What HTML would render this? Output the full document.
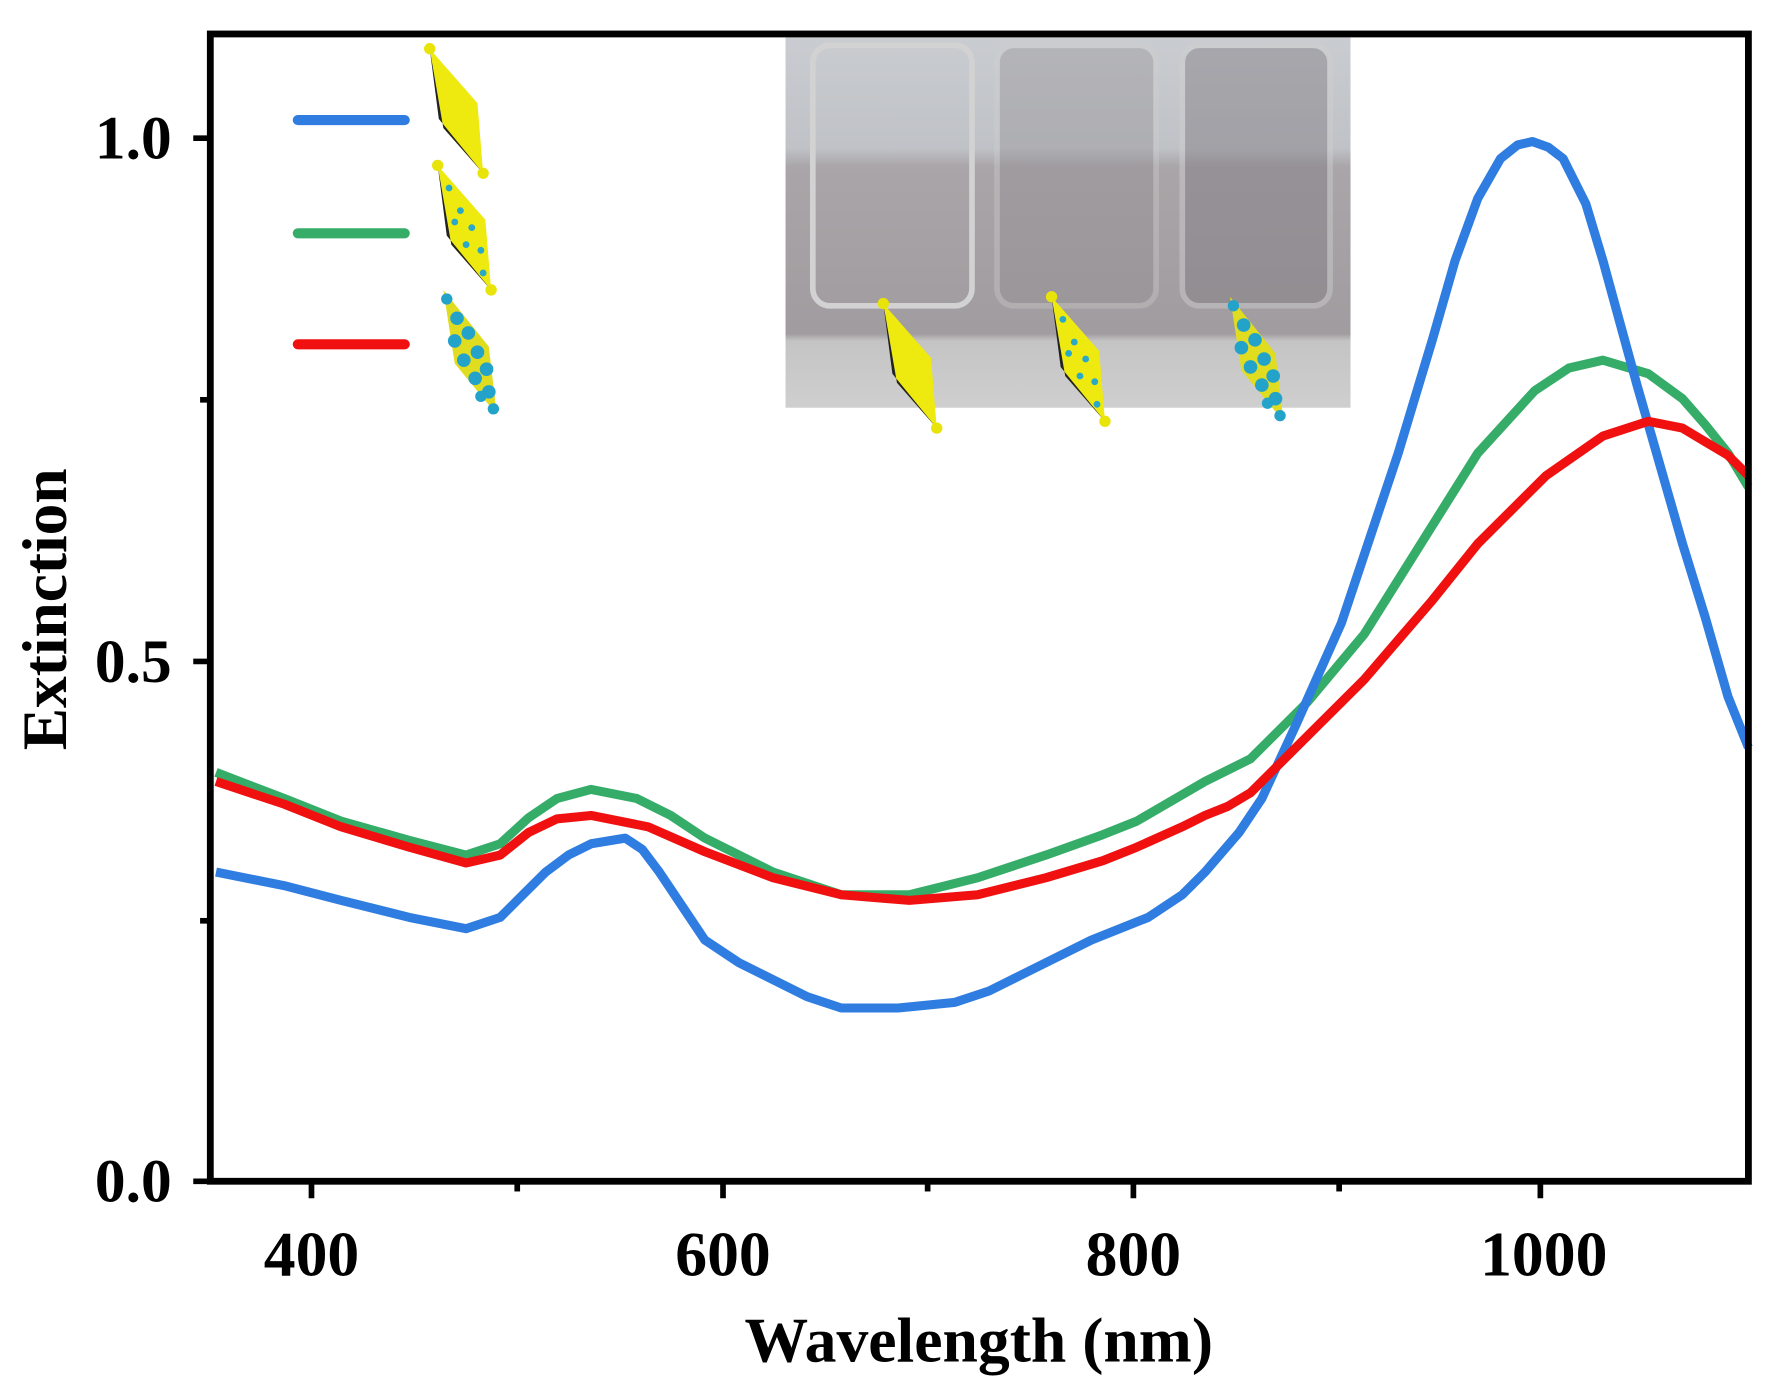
<!DOCTYPE html>
<html><head><meta charset="utf-8"><style>
html,body{margin:0;padding:0;background:#fff;}
svg{display:block;}
text{font-family:"Liberation Serif",serif;font-weight:bold;fill:#000;}
</style></head><body>
<svg width="1770" height="1384" viewBox="0 0 1557 1222" preserveAspectRatio="none" xmlns="http://www.w3.org/2000/svg">
<defs>
<linearGradient id="ph" x1="0" y1="0" x2="0" y2="1">
<stop offset="0" stop-color="#c9ccd0"/><stop offset="0.3" stop-color="#bfc2c6"/><stop offset="0.35" stop-color="#a9a5a8"/><stop offset="0.8" stop-color="#a09c9f"/><stop offset="0.82" stop-color="#c4c4c4"/><stop offset="1" stop-color="#cfcfcf"/>
</linearGradient>
<g id="bp">
<polygon points="0,0 42,48 47,110 12,70" fill="#eeea10"/>
<polygon points="0,0 12,70 47,110 8,62" fill="#222"/>
<circle cx="0" cy="0" r="5" fill="#e8e40a"/><circle cx="47" cy="110" r="5" fill="#e8e40a"/>
</g>
<g id="bp2">
<use href="#bp"/>
<g fill="#2aa8c8"><circle cx="10" cy="20" r="3"/><circle cx="20" cy="40" r="3"/><circle cx="30" cy="55" r="3"/><circle cx="38" cy="75" r="3"/><circle cx="25" cy="70" r="3"/><circle cx="15" cy="50" r="3"/><circle cx="40" cy="95" r="3"/></g>
</g>
<g id="bp3">
<polygon points="0,0 40,50 47,110 10,65" fill="#e0dc20"/>
<g fill="#23a3c9"><circle cx="3" cy="8" r="5"/><circle cx="12" cy="25" r="6"/><circle cx="22" cy="38" r="6"/><circle cx="10" cy="45" r="6"/><circle cx="30" cy="55" r="6"/><circle cx="18" cy="62" r="6"/><circle cx="38" cy="70" r="6"/><circle cx="28" cy="78" r="6"/><circle cx="40" cy="90" r="6"/><circle cx="44" cy="105" r="5"/><circle cx="33" cy="94" r="5"/></g>
</g>
</defs>
<rect x="691" y="33" width="497" height="327" fill="url(#ph)"/>
<rect x="715" y="40" width="140" height="230" rx="15" fill="none" stroke="#d2d2d2" stroke-width="5"/>
<rect x="877" y="40" width="140" height="230" rx="15" fill="#8f8b90" opacity="0.35" stroke="#d0d0d0" stroke-width="5"/>
<rect x="1040" y="40" width="130" height="230" rx="15" fill="#7f7b82" opacity="0.45" stroke="#d0d0d0" stroke-width="5"/>
<use href="#bp" x="777" y="268"/>
<use href="#bp2" x="925" y="262"/>
<use href="#bp3" x="1082" y="262"/>
<line x1="262" y1="106" x2="356" y2="106" stroke="#2f7de0" stroke-width="9" stroke-linecap="round"/>
<line x1="262" y1="206" x2="356" y2="206" stroke="#35ad68" stroke-width="9" stroke-linecap="round"/>
<line x1="262" y1="304" x2="356" y2="304" stroke="#f01010" stroke-width="9" stroke-linecap="round"/>
<use href="#bp" x="378" y="43"/>
<use href="#bp2" x="385" y="146"/>
<use href="#bp3" x="390" y="256"/>
<g fill="none" stroke-width="8" stroke-linejoin="round">
<polyline stroke="#35ad68" points="190,682 250,705 300,725 360,742 410,755 440,745 465,722 490,705 520,697 560,705 590,720 620,740 680,770 740,790 800,790 860,775 920,755 970,737 1000,725 1060,690 1100,670 1150,620 1200,560 1250,480 1300,400 1350,345 1380,325 1410,318 1450,330 1480,352 1500,375 1520,400 1538,430"/>
<polyline stroke="#2f7de0" points="190,770 250,782 300,795 360,810 410,820 440,810 460,790 480,770 500,755 520,745 550,740 565,750 580,770 600,800 620,830 650,850 680,865 710,880 740,890 790,890 840,885 870,875 900,860 960,830 1010,810 1040,790 1060,770 1090,735 1110,705 1140,640 1160,595 1180,550 1200,490 1230,400 1260,300 1280,230 1300,175 1320,140 1335,128 1348,125 1362,130 1375,140 1395,180 1410,230 1425,285 1440,340 1460,410 1480,480 1500,545 1520,615 1538,660"/>
<polyline stroke="#f01010" points="190,690 250,710 300,730 360,748 410,762 440,755 465,735 490,723 520,720 570,730 620,752 680,775 740,790 800,795 860,790 920,775 970,760 1000,748 1040,730 1060,720 1080,712 1100,700 1150,650 1200,600 1260,530 1300,480 1360,420 1410,385 1450,372 1480,378 1500,390 1520,402 1538,420"/>
</g>
<rect x="185" y="30" width="1353" height="1013" fill="none" stroke="#000" stroke-width="6"/>
<g stroke="#000" stroke-width="5">
<line x1="274" y1="1043" x2="274" y2="1058"/><line x1="636" y1="1043" x2="636" y2="1058"/><line x1="997" y1="1043" x2="997" y2="1058"/><line x1="1355" y1="1043" x2="1355" y2="1058"/>
<line x1="455" y1="1043" x2="455" y2="1052"/><line x1="816" y1="1043" x2="816" y2="1052"/><line x1="1178" y1="1043" x2="1178" y2="1052"/>
<line x1="170" y1="122" x2="185" y2="122"/><line x1="170" y1="584" x2="185" y2="584"/><line x1="170" y1="1043" x2="185" y2="1043"/>
<line x1="176" y1="353" x2="185" y2="353"/><line x1="176" y1="813" x2="185" y2="813"/>
</g>
<g font-size="54" text-anchor="end">
<text x="151" y="140">1.0</text><text x="151" y="602">0.5</text><text x="151" y="1061">0.0</text>
</g>
<g font-size="56" text-anchor="middle">
<text x="274" y="1126">400</text><text x="636" y="1126">600</text><text x="997" y="1126">800</text><text x="1358" y="1126">1000</text>
</g>
<text x="861" y="1202" font-size="56" text-anchor="middle">Wavelength (nm)</text>
<text transform="translate(58,538) rotate(-90)" font-size="56" text-anchor="middle">Extinction</text>
</svg>
</body></html>
